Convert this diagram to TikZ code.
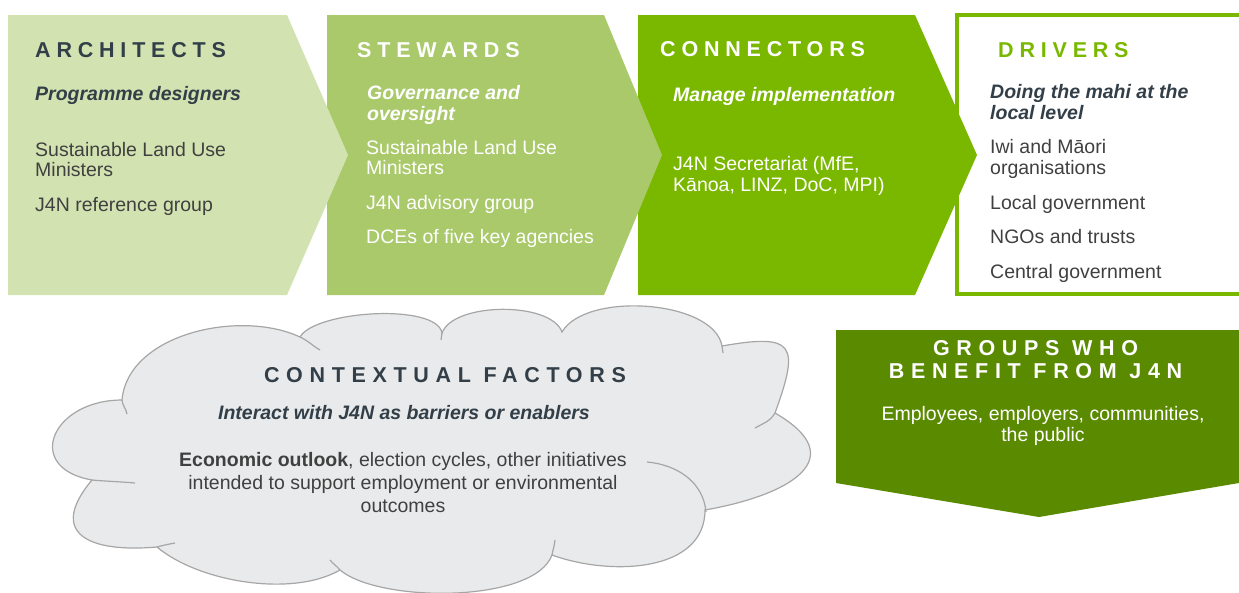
\documentclass[tikz,border=0pt]{standalone}
\usepackage{fontspec}
\setmainfont{Liberation Sans}
\newfontfamily\capsfont[LetterSpace=27]{Liberation Sans}
\newfontfamily\widecapsfont[LetterSpace=31]{Liberation Sans}
\usetikzlibrary{positioning}
\definecolor{archgreen}{HTML}{D2E3B1}
\definecolor{stewgreen}{HTML}{A9C96A}
\definecolor{conngreen}{HTML}{7AB800}
\definecolor{grpgreen}{HTML}{5A8A00}
\definecolor{cloudfill}{HTML}{E9EAEB}
\definecolor{cloudgray}{HTML}{A6A6A6}
\definecolor{textdark}{HTML}{333F48}
\definecolor{bodygray}{HTML}{404040}
\begin{document}
\begin{tikzpicture}
  [x=1pt, y=-1pt,
   head/.style={inner sep=0pt, anchor=base west, text=textdark,
     font=\capsfont\bfseries\fontsize{21.5}{24}\selectfont},
   widehead/.style={head, anchor=base,
     font=\widecapsfont\bfseries\fontsize{21.5}{24}\selectfont},
   lead/.style={inner sep=0pt, anchor=base west, align=left, text=textdark,
     font=\bfseries\itshape\fontsize{19.5}{20.7}\selectfont},
   item/.style={inner sep=0pt, anchor=base west, align=left, text=bodygray,
     font=\fontsize{19.5}{20.7}\selectfont},
   cloudline/.style={draw=cloudgray, line width=1.2pt}]
  \useasboundingbox (0,0) rectangle (1239,592);

  \draw[conngreen, line width=4pt] (957,15) rectangle (1243,294);
  \fill[conngreen] (638,15) -- (915,15) -- (977,155) -- (915,295) -- (638,295) -- cycle;
  \fill[stewgreen] (327,15) -- (604,15) -- (662,155) -- (604,295) -- (327,295) -- cycle;
  \fill[archgreen] (8,15) -- (287,15) -- (348,155) -- (287,295) -- (8,295) -- cycle;
  \fill[grpgreen] (836,330) -- (1239,330) -- (1239,483) -- (1039,517) -- (836,483) -- cycle;

  \filldraw[cloudline, fill=cloudfill] (122,400)
    to[out=85, in=155, looseness=0.9] (300,337)
    to[out=60, in=100, looseness=0.55] (442,333)
    to[out=70, in=110, looseness=0.7] (562,332)
    to[out=60, in=100, looseness=0.75] (722,346)
    to[out=10, in=70, looseness=2.2] (775,413)
    to[out=-30, in=10, looseness=1.9] (705,510)
    to[out=-90, in=-20, looseness=1.0] (552,555)
    to[out=-110, in=-40, looseness=0.62] (340,570)
    to[out=-150, in=-40, looseness=0.76] (157,547)
    to[out=185, in=-130, looseness=1.9] (92,480)
    to[out=170, in=180, looseness=2.1] cycle;
  \draw[cloudline] (122,400) to[out=-85, in=100] (127,414);
  \draw[cloudline] (300,337) to[out=-25, in=150] (320,350);
  \draw[cloudline] (442,333) -- (441,340);
  \draw[cloudline] (722,346) -- (723,353);
  \draw[cloudline] (775,413) to[out=-120, in=30] (755,428);
  \draw[cloudline] (647,462) to[out=-5, in=95] (706,512);
  \draw[cloudline] (552,555) to[out=80, in=-95] (555,540);
  \draw[cloudline] (340,570) to[out=130, in=-50] (330,560);
  \draw[cloudline] (157,547) to[out=15, in=190] (175,543);
  \draw[cloudline] (92,480) to[out=-5, in=175] (135,483);

  \node[head] (arch-title) at (35,57) {ARCHITECTS};
  \node[lead] (arch-lead) at (35,100) {Programme designers};
  \node[item] (arch-min) at (35,176.7) {Sustainable Land Use\\Ministers};
  \node[item] (arch-ref) at (35,211) {J4N reference group};

  \node[head, text=white] (stew-title) at (357,57) {STEWARDS};
  \node[lead, text=white] (stew-lead) at (367,120) {Governance and\\oversight};
  \node[item, text=white] (stew-min) at (366,174.7) {Sustainable Land Use\\Ministers};
  \node[item, text=white] (stew-adv) at (366,209) {J4N advisory group};
  \node[item, text=white] (stew-dce) at (366,243) {DCEs of five key agencies};

  \node[head, text=white] (conn-title) at (660,56) {CONNECTORS};
  \node[lead, text=white] (conn-lead) at (673,101) {Manage implementation};
  \node[item, text=white] (conn-sec) at (673,191.5) {J4N Secretariat (MfE,\\Kānoa, LINZ, DoC, MPI)};

  \node[head, text=conngreen] (drv-title) at (998,57) {DRIVERS};
  \node[lead] (drv-lead) at (990,119.5) {Doing the mahi at the\\local level};
  \node[item] (drv-iwi) at (990,174.5) {Iwi and Māori\\organisations};
  \node[item] (drv-local) at (990,209) {Local government};
  \node[item] (drv-ngo) at (990,243) {NGOs and trusts};
  \node[item] (drv-central) at (990,278) {Central government};

  \node[widehead, text=white] (grp-title) at (1035.5,355) {GROUPS WHO};
  \node[widehead, text=white] (grp-title2) at (1035.5,378) {BENEFIT FROM J4N};
  \node[item, anchor=base, align=center, text=white] (grp-who) at (1043,441) {Employees, employers, communities,\\the public};

  \node[widehead] (ctx-title) at (445,382) {CONTEXTUAL FACTORS};
  \node[lead, anchor=base] (ctx-lead) at (404,419) {Interact with J4N as barriers or enablers};
  \node[item, anchor=base, align=center, font=\fontsize{19.5}{23}\selectfont] (ctx-list) at (403,512)
    {\textbf{Economic outlook}, election cycles, other initiatives\\intended to support employment or environmental\\outcomes};
\end{tikzpicture}
\end{document}
